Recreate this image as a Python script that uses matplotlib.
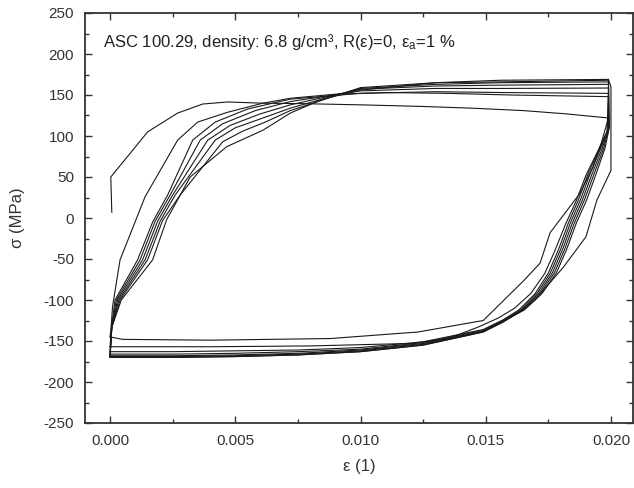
import matplotlib
matplotlib.use("Agg")
import matplotlib.pyplot as plt
from matplotlib.ticker import MultipleLocator, FormatStrFormatter

plt.rcParams['font.family'] = ['Liberation Sans', 'DejaVu Sans']
plt.rcParams['mathtext.default'] = 'regular'
plt.rcParams['axes.unicode_minus'] = False

# ---- data: strain (1) and stress (MPa) per half-cycle ----
load1_eps = [0.00007, 0.00003, 0.0015, 0.0027, 0.0037, 0.0047, 0.0061, 0.0076, 0.0100, 0.0125, 0.0144, 0.0165, 0.0182, 0.0199]
load1_sig = [7, 50, 105, 128, 139, 141.5, 140, 139.5, 138, 136, 134, 131, 127, 122]
unload1_eps = [0.0199, 0.0196, 0.01928, 0.01876, 0.01757, 0.01717, 0.01653, 0.0149, 0.0123, 0.0088, 0.0040, 0.0005, 0.0]
unload1_sig = [122, 90, 62, 30, -18, -55, -76, -125, -139, -147, -149, -148, -145]

load2_eps = [0.0, 0.00005, 0.0001, 0.0004, 0.0014, 0.0027, 0.0035, 0.0047, 0.0061, 0.0072, 0.0090, 0.0110, 0.0135, 0.0160, 0.0199]
load2_sig = [-145, -130, -108, -51, 26, 95, 117, 129, 140, 146, 151, 153, 152, 150, 148]
unload2_eps = [0.0199, 0.01984, 0.01945, 0.01900, 0.01860, 0.01818, 0.01776, 0.01735, 0.01680, 0.01615, 0.0155, 0.0147, 0.0135, 0.0120, 0.0080, 0.0040, 0.0]
unload2_sig = [148, 105, 80, 52, 20, -8, -40, -68, -92, -110, -122, -133, -147, -153, -156, -157, -157]

load3_eps = [0.0, 0.00006, 0.0002, 0.0011, 0.0017, 0.0023, 0.0033, 0.0042, 0.0055, 0.0072, 0.0100, 0.0130, 0.0156, 0.0199]
load3_sig = [-157, -133, -100, -51, -5, 28, 95, 117, 133, 145, 152, 154, 153, 152]
unload3_eps = [0.0199, 0.01987, 0.01952, 0.01910, 0.01870, 0.01830, 0.01790, 0.01750, 0.01698, 0.01633, 0.0157, 0.0149, 0.0125, 0.0100, 0.0075, 0.0050, 0.0025, 0.0]
unload3_sig = [152, 107, 83, 55, 22, -6, -39, -67, -92, -112, -124, -136, -151, -158, -161, -162, -163, -163]

load4_eps = [0.0, 0.00007, 0.00025, 0.0012, 0.0018, 0.0024, 0.0036, 0.0045, 0.0058, 0.0072, 0.0100, 0.0130, 0.0156, 0.0199]
load4_sig = [-163, -133, -100, -51, -4, 28, 95, 115, 131, 142, 155, 158, 158, 158.5]
unload4_eps = [0.0199, 0.01989, 0.01958, 0.01918, 0.01878, 0.01838, 0.01798, 0.01758, 0.01705, 0.01640, 0.0157, 0.0149, 0.0125, 0.0100, 0.0075, 0.0050, 0.0025, 0.0]
unload4_sig = [158.5, 108, 84, 55, 22, -6, -39, -67, -92, -112, -125, -137, -152, -160, -163, -165, -166, -166]

load5_eps = [0.0, 0.00007, 0.0003, 0.0013, 0.0019, 0.0025, 0.0039, 0.0048, 0.0060, 0.0072, 0.0100, 0.0130, 0.0156, 0.0199]
load5_sig = [-166, -133, -100, -51, -4, 28, 95, 113, 127, 138, 157, 161, 162, 163]
unload5_eps = [0.0199, 0.01990, 0.01964, 0.01926, 0.01886, 0.01846, 0.01806, 0.01766, 0.01712, 0.01645, 0.0157, 0.0149, 0.0125, 0.0100, 0.0075, 0.0050, 0.0025, 0.0]
unload5_sig = [163, 109, 84, 55, 22, -6, -39, -67, -92, -112, -125, -138, -153, -161, -165, -167, -168, -168]

load6_eps = [0.0, 0.00007, 0.00035, 0.0014, 0.0020, 0.0026, 0.0042, 0.0050, 0.0062, 0.0072, 0.0100, 0.0130, 0.0156, 0.0199]
load6_sig = [-168, -133, -100, -51, -4, 28, 95, 110, 123, 134, 158, 163, 165, 166]
unload6_eps = [0.0199, 0.01992, 0.01970, 0.01934, 0.01894, 0.01854, 0.01814, 0.01774, 0.01718, 0.01650, 0.0157, 0.0149, 0.0125, 0.0100, 0.0075, 0.0050, 0.0025, 0.0]
unload6_sig = [166, 110, 84, 55, 22, -6, -39, -67, -92, -112, -126, -138, -154, -162, -166, -168, -169, -169]

load7_eps = [0.0, 0.00007, 0.0004, 0.0015, 0.0021, 0.0028, 0.0045, 0.0053, 0.0062, 0.0072, 0.0100, 0.0130, 0.0156, 0.0199]
load7_sig = [-169, -133, -100, -51, -3, 28, 93, 106, 117, 131, 159, 165, 166, 168]
unload7_eps = [0.0199, 0.01994, 0.01976, 0.01942, 0.01903, 0.01862, 0.01822, 0.01782, 0.01725, 0.01655, 0.0157, 0.0149, 0.0125, 0.0100, 0.0075, 0.0050, 0.0025, 0.0]
unload7_sig = [168, 111, 85, 55, 22, -6, -39, -67, -92, -112, -126, -139, -155, -163, -167, -169, -170, -170]

load8_eps = [0.0, 0.00007, 0.00045, 0.0017, 0.00226, 0.0032, 0.00466, 0.0061, 0.0072, 0.0085, 0.0100, 0.0130, 0.0156, 0.0199]
load8_sig = [-170, -133, -100, -51, -2, 50, 87, 107, 128, 145, 156, 165, 168, 169]
unload8_eps = [0.0199, 0.0200, 0.0200, 0.01944, 0.0190, 0.0181, 0.01697, 0.01637, 0.0157, 0.0149, 0.0125, 0.0100, 0.0075, 0.0050, 0.0025, 0.0]
unload8_sig = [169, 160, 58, 22, -23, -60, -100, -114, -127, -139, -155, -163, -167, -169, -170, -170]

x_ticks = [0.000, 0.005, 0.010, 0.015, 0.020]
y_ticks = [-250, -200, -150, -100, -50, 0, 50, 100, 150, 200, 250]

branches = [
    (load1_eps, load1_sig), (unload1_eps, unload1_sig),
    (load2_eps, load2_sig), (unload2_eps, unload2_sig),
    (load3_eps, load3_sig), (unload3_eps, unload3_sig),
    (load4_eps, load4_sig), (unload4_eps, unload4_sig),
    (load5_eps, load5_sig), (unload5_eps, unload5_sig),
    (load6_eps, load6_sig), (unload6_eps, unload6_sig),
    (load7_eps, load7_sig), (unload7_eps, unload7_sig),
    (load8_eps, load8_sig), (unload8_eps, unload8_sig),
]

fig = plt.figure(figsize=(6.34, 4.88), dpi=100)
ax = fig.add_axes([85 / 634, 65 / 488, 548 / 634, 410 / 488])

for e, s in branches:
    ax.plot(e, s, color='#1a1a1a', lw=0.8, solid_joinstyle='miter')

ax.set_xlim(-0.001, 0.02088)
ax.set_ylim(-250, 250)
ax.set_xticks(x_ticks)
ax.set_yticks(y_ticks)
ax.xaxis.set_minor_locator(MultipleLocator(0.0025))
ax.yaxis.set_minor_locator(MultipleLocator(25))
ax.xaxis.set_major_formatter(FormatStrFormatter('%.3f'))

ax.tick_params(which='both', direction='in', top=True, right=True,
               colors='#333333', labelcolor='#333333', labelsize=11, width=1.0)
ax.tick_params(which='major', length=5, pad=8)
ax.tick_params(which='minor', length=3)
for sp in ax.spines.values():
    sp.set_linewidth(1.3)
    sp.set_color('#333333')

ax.set_xlabel('ε (1)', fontsize=12, color='#333333')
ax.set_ylabel('σ (MPa)', fontsize=12, color='#333333')
ax.xaxis.set_label_coords(0.5, -0.088)
ax.yaxis.set_label_coords(-0.109, 0.5)

ax.text(0.033, 0.929, 'ASC 100.29, density: 6.8 g/cm³, R(ε)=0, ε$_{a}$=1 %',
        transform=ax.transAxes, fontsize=12, color='#222222', va='center', ha='left')

fig.savefig('out.png', dpi=100)
